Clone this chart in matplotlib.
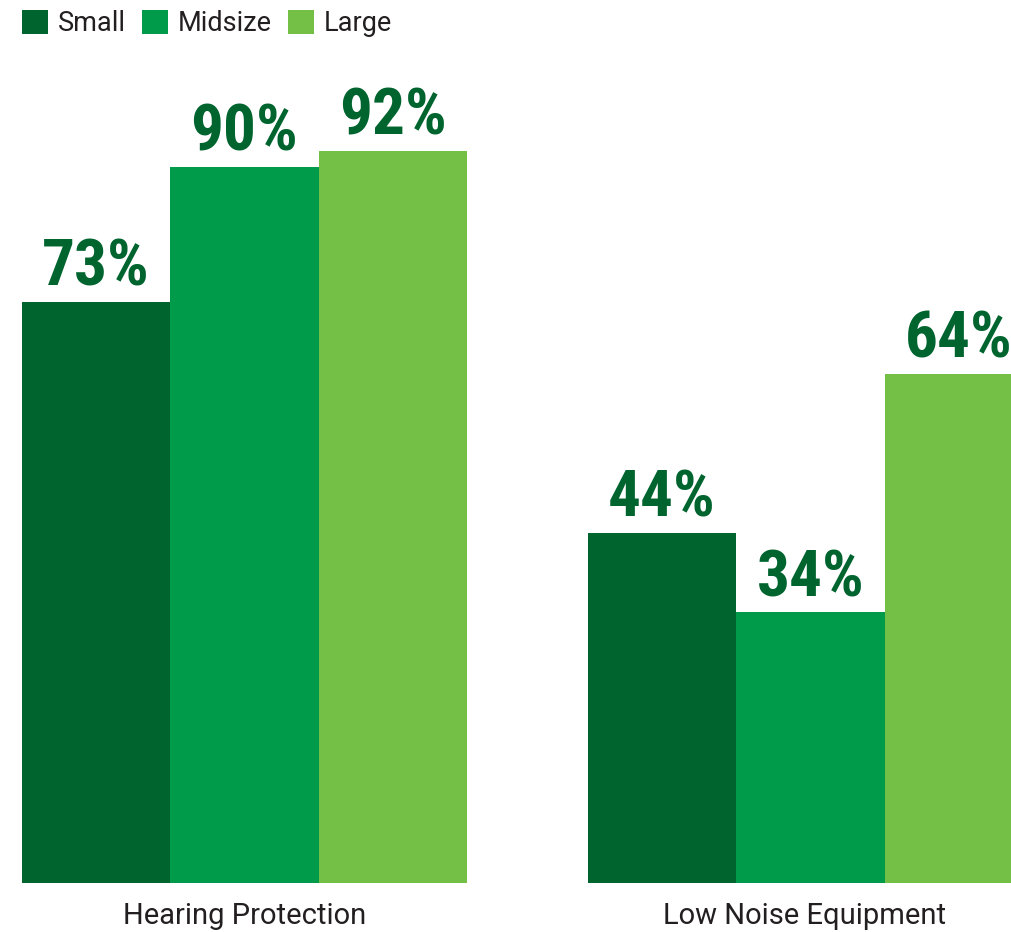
import matplotlib
matplotlib.use("Agg")
import matplotlib.pyplot as plt
from matplotlib import font_manager
from matplotlib.patches import Patch
import numpy as np

# data
categories = ["Hearing Protection", "Low Noise Equipment"]
sizes = ["Small", "Midsize", "Large"]
small = [73, 44]
midsize = [90, 34]
large = [92, 64]

colors = ["#00642F", "#009A4B", "#74C046"]
label_color = "#00642F"
text_color = "#231F20"


def pick_condensed():
    """Look for a narrow bold face; fall back to Roboto bold."""
    for f in font_manager.fontManager.ttflist:
        if f.name in ("Liberation Sans Narrow", "Roboto Condensed") and f.weight in (700, "bold"):
            return dict(family=f.name, stretch="normal"), 47
    for f in font_manager.fontManager.ttflist:
        if f.name == "DejaVu Sans" and f.stretch == "condensed":
            return dict(family="DejaVu Sans", stretch="condensed"), 43
    return dict(family="Roboto", stretch="normal"), 40


val_font, val_size = pick_condensed()

W, H = 1012, 932
fig = plt.figure(figsize=(W / 100, H / 100), dpi=100)
# axes spans full width, baseline at y=883 px from top
ax = fig.add_axes([0, 49 / H, 1, 883 / H])

bar_w = 1.0
group_gap = 3.81
x = np.arange(len(categories)) * group_gap
series = [small, midsize, large]

for i, (name, vals) in enumerate(zip(sizes, series)):
    xs = x + i * bar_w
    bars = ax.bar(xs, vals, bar_w, color=colors[i], label=name, linewidth=0)
    for b, v in zip(bars, vals):
        ax.text(b.get_x() + bar_w / 2, v + 0.4, f"{v}%",
                ha="center", va="bottom", fontsize=val_size, fontweight="bold",
                color=label_color, family=[val_font["family"], "DejaVu Sans"],
                fontstretch=val_font["stretch"])

# category labels under each group
for xc, cat in zip(x + bar_w - np.array([0, 0.04]), categories):
    ax.text(xc, -4.2, cat, ha="center", va="center", fontsize=21,
            color=text_color, family=["Roboto", "DejaVu Sans"])

ax.set_xlim(-96 / 148.5, (W - 96) / 148.5)
ax.set_ylim(0, 883 / 7.96)
ax.axis("off")

handles = [Patch(facecolor=c, edgecolor="none") for c in colors]
fig.legend(handles, sizes, loc="upper left", ncol=3, frameon=False,
           bbox_to_anchor=(22 / W, 1 - 10 / H), borderpad=0, borderaxespad=0,
           handlelength=0.97, handleheight=0.97, handletextpad=0.35,
           columnspacing=0.6,
           prop={"family": ["Roboto", "DejaVu Sans"], "size": 19.5})
for t in fig.legends[0].get_texts():
    t.set_color(text_color)

fig.savefig("out.png", dpi=100)
